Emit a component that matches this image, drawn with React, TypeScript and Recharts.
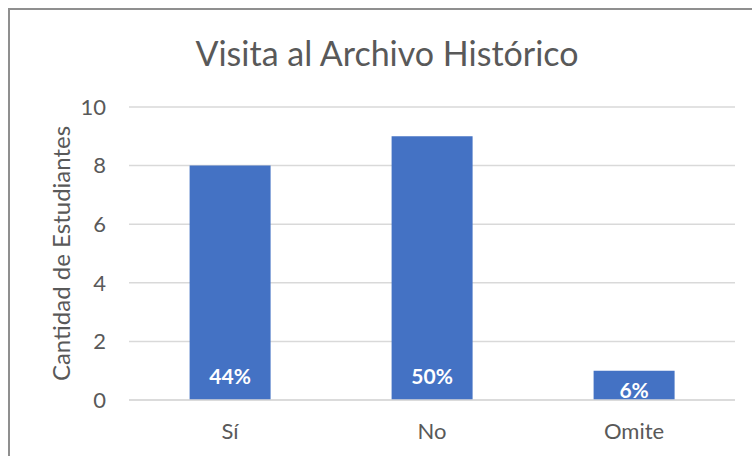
import React from 'react';
import { BarChart, Bar, XAxis, YAxis, CartesianGrid, LabelList } from 'recharts';

const categories = ['Sí', 'No', 'Omite'];
const students = [8, 9, 1];
const percents = ['44%', '50%', '6%'];
const yTicks = [0, 2, 4, 6, 8, 10];

const data = categories.map((name, i) => ({ name, value: students[i], pct: percents[i] }));

const FONT = 'Lato, "Open Sans", sans-serif';
const TEXT = '#595959';

// Excel-style inside-base label: sits near the bottom, but stays inside short bars
const PctLabel = (props: any) => {
  const { x, y, width, height, value } = props;
  const bottom = Number(y) + Number(height);
  const cy = Math.max(bottom - 25, Number(y) + 19);
  return (
    <text
      x={Number(x) + Number(width) / 2}
      y={cy}
      textAnchor="middle"
      dominantBaseline="central"
      fill="#ffffff"
      fontSize={21}
      fontWeight="bold"
      fontFamily={FONT}
    >
      {value}
    </text>
  );
};

const App: React.FC = () => {
  return (
    <div style={{ position: 'absolute', left: 0, top: 0, width: 752, height: 456, background: '#fff', fontFamily: FONT }}>
      <div
        style={{
          position: 'absolute',
          left: 8,
          top: 8,
          width: 760,
          height: 460,
          borderLeft: '2px solid #8f8f8f',
          borderTop: '2px solid #8f8f8f',
          boxSizing: 'border-box',
        }}
      />
      <div
        style={{
          position: 'absolute',
          left: 0,
          top: 32,
          width: 774,
          textAlign: 'center',
          fontSize: 34,
          color: TEXT,
          lineHeight: '42px',
        }}
      >
        Visita al Archivo Histórico
      </div>
      <div style={{ position: 'absolute', left: 0, top: 0 }}>
        <BarChart
          width={752}
          height={456}
          data={data}
          margin={{ top: 107, right: 17, bottom: 26, left: 0 }}
          barCategoryGap="30%"
        >
          <CartesianGrid vertical={false} stroke="#d9d9d9" strokeWidth={1.5} />
          <XAxis
            dataKey="name"
            height={30}
            axisLine={{ stroke: '#d9d9d9', strokeWidth: 1.5 }}
            tickLine={false}
            tickMargin={17}
            tick={{ fill: TEXT, fontSize: 22, fontFamily: FONT }}
          />
          <YAxis
            width={129}
            domain={[0, 10]}
            ticks={yTicks}
            axisLine={false}
            tickLine={false}
            tickMargin={17}
            tick={{ fill: TEXT, fontSize: 22, fontFamily: FONT }}
            label={{
              value: 'Cantidad de Estudiantes',
              angle: -90,
              position: 'center',
              dx: -3,
              fill: TEXT,
              fontSize: 24,
              fontFamily: FONT,
            }}
          />
          <Bar dataKey="value" fill="#4472c4" isAnimationActive={false}>
            <LabelList dataKey="pct" content={PctLabel} />
          </Bar>
        </BarChart>
      </div>
    </div>
  );
};

export default App;
